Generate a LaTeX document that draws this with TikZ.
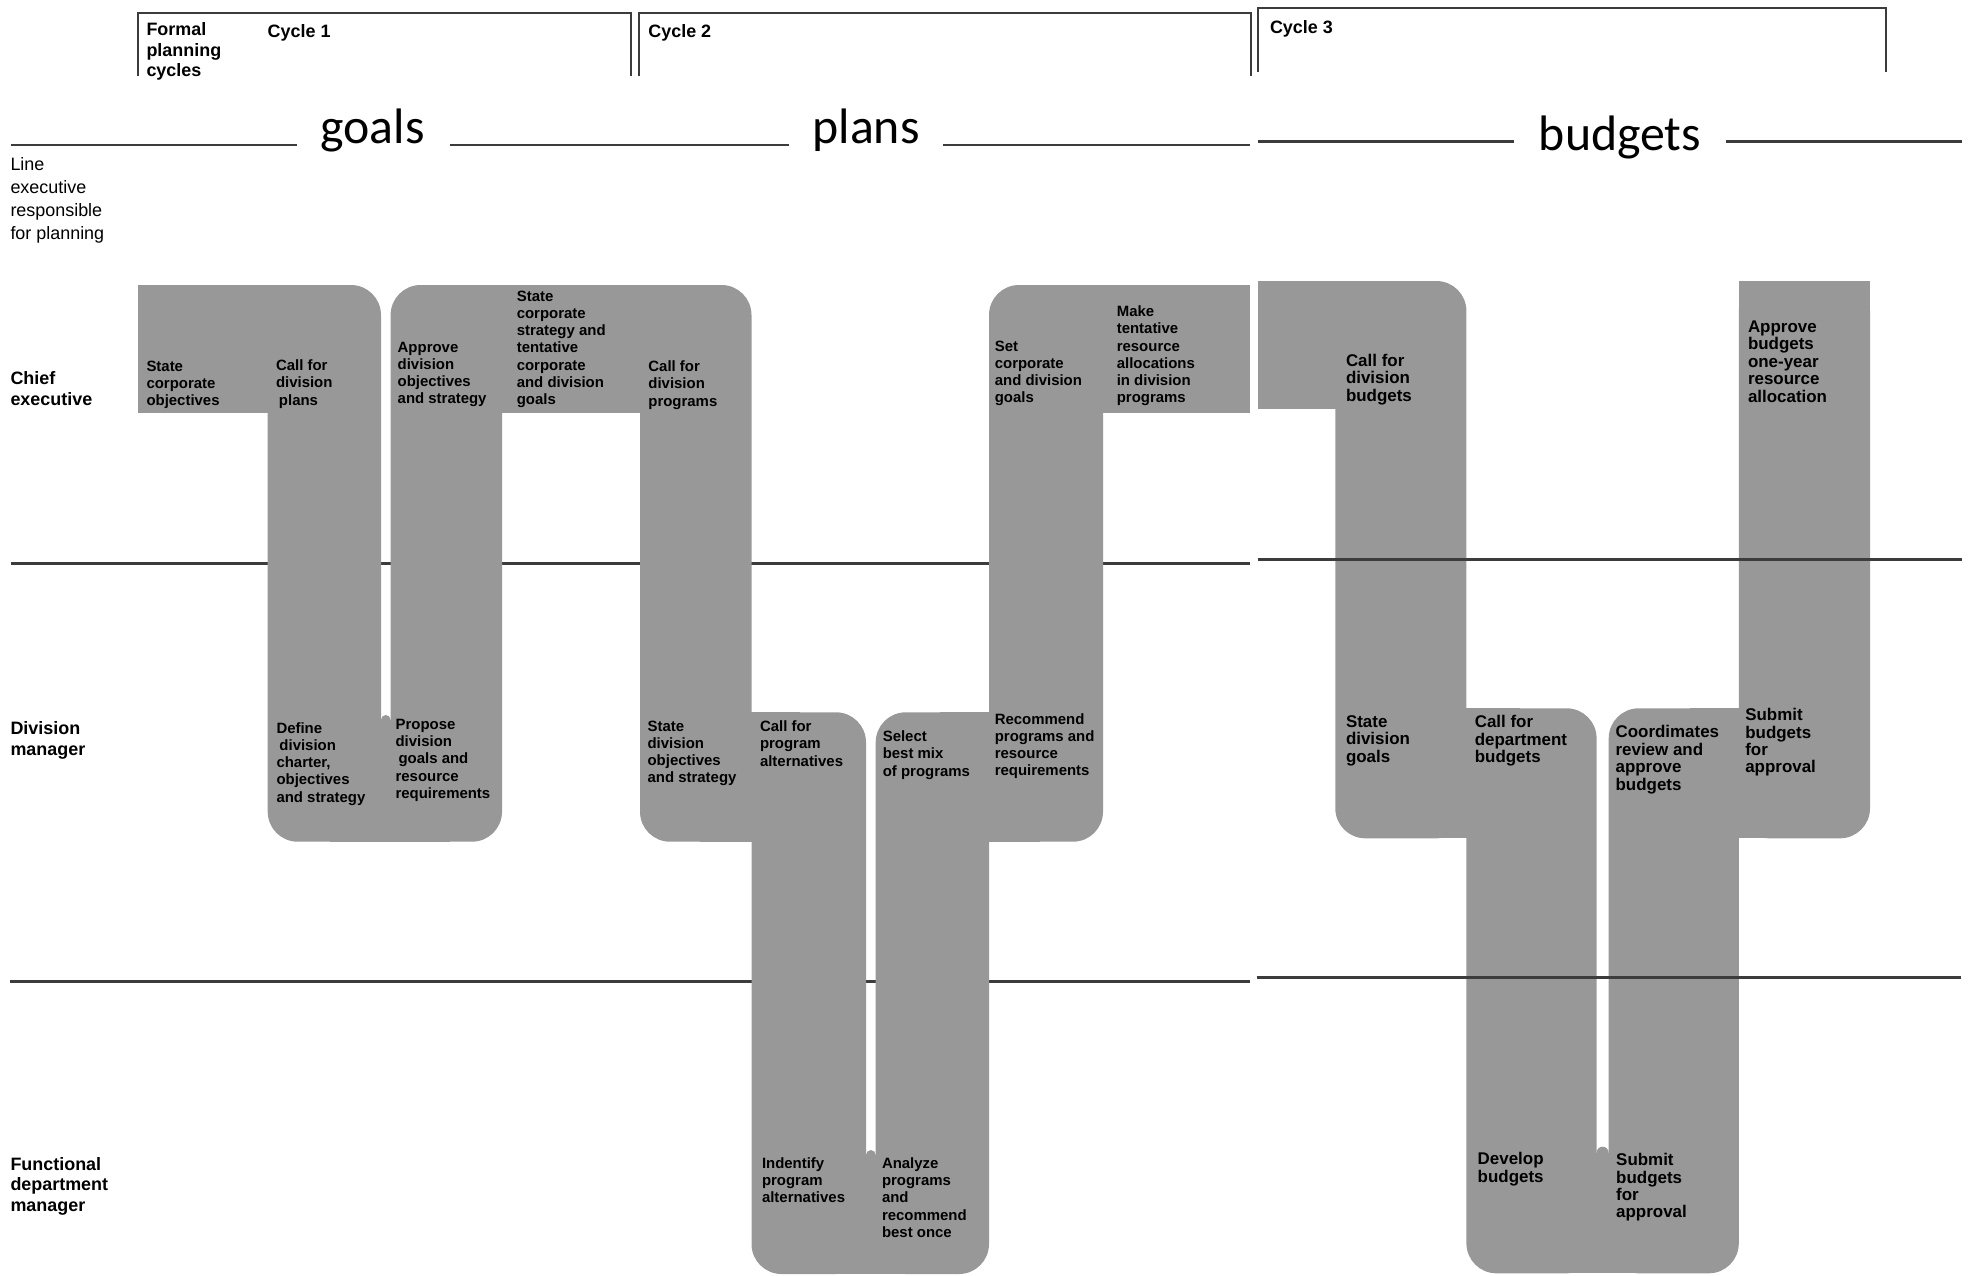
\documentclass[tikz,border=0pt]{standalone}
\usepackage{fontspec}
\setmainfont{Liberation Sans}
\newfontfamily\calib{Carlito}
\definecolor{shade}{RGB}{152,152,152}
\definecolor{ink}{RGB}{60,60,60}
\begin{document}
\begin{tikzpicture}[x=1bp,y=-1bp,
  frame/.style={draw=ink,line width=2.3bp},
  rulel/.style={draw=ink,line width=2.5bp},
  blk/.style={fill=shade,draw=none},
  rblk/.style={fill=shade,draw=none,rounded corners=30bp},
  txt/.style={anchor=north west,inner sep=0pt,outer sep=0pt,align=left,
    execute at begin node={\rule{0pt}{.8em}}},
  boxtxt/.style={txt,font=\fontsize{15}{17.3}\selectfont\bfseries},
  boxtxtc/.style={txt,font=\fontsize{17}{17.5}\selectfont\bfseries},
  lanetxt/.style={txt,font=\fontsize{18}{20.5}\selectfont\bfseries},
  lanereg/.style={txt,font=\fontsize{18}{23}\selectfont},
  big/.style={anchor=base,inner sep=0pt,font=\calib\fontsize{50}{60}\selectfont}
]
\useasboundingbox (0,0) rectangle (1969,1275);

% ---------- header frames
\draw[frame] (138,76) -- (138,12.7) -- (631,12.7) -- (631,76);
\draw[frame] (639,76) -- (639,12.7) -- (1251,12.7) -- (1251,76);
\draw[frame] (1257.7,72) -- (1257.7,8.3) -- (1886,8.3) -- (1886,72);

\node[lanetxt] (hformal) at (146.5,22.9) {Formal\\planning\\cycles};
\node[lanetxt] (hc1) at (267.7,22.9) {Cycle 1};
\node[lanetxt] (hc2) at (648.4,22.9) {Cycle 2};
\node[lanetxt] (hc3) at (1270,18.9) {Cycle 3};

% ---------- title rules
\node[big] (goals) at (372.5,143.3) {goals};
\node[big] (plans) at (866,143.3) {plans};
\node[big] (budgets) at (1620,150) {budgets};
\draw[rulel] (10.5,145) -- (296.7,145);
\draw[rulel] (449.5,145) -- (789.4,145);
\draw[rulel] (943,145) -- (1250,145);
\draw[rulel] (1257.7,141.7) -- (1514,141.7);
\draw[rulel] (1725.8,141.7) -- (1961.5,141.7);

% ---------- lane rules (left part, behind the bands)
\draw[rulel] (10.5,563.3) -- (1250,563.3);
\draw[rulel] (10,981.7) -- (1250,981.7);

% ---------- bands, cycles 1 and 2
\path[blk]  (138,285) rectangle (330,413.3);
\path[rblk] (267.7,285) rectangle (381,841.7);
\path[rblk] (390.6,285) rectangle (502,841.7);
\path[blk]  (450,285) rectangle (700,413.3);
\path[blk]  (330,719.8) rectangle (450,841.7);
\path[blk]  (385.8,719.8) circle[radius=4.8];
\path[rblk] (640,285) rectangle (751.5,841.7);
\path[blk]  (700,712.3) rectangle (800,841.7);
\path[rblk] (751.5,712.3) rectangle (866,1274);
\path[blk]  (820,1154.9) rectangle (920,1274);
\path[blk]  (870.85,1154.9) circle[radius=4.85];
\path[rblk] (875.7,712.3) rectangle (989,1274);
\path[blk]  (940,712.3) rectangle (1040,841.7);
\path[rblk] (989,285) rectangle (1103,841.7);
\path[blk]  (1050,285) rectangle (1250,413.3);

% ---------- bands, cycle 3
\path[blk]  (1257.7,281) rectangle (1400,409.3);
\path[rblk] (1335.3,281) rectangle (1466.4,838.3);
\path[blk]  (1420,708.3) rectangle (1520,838.3);
\path[rblk] (1466.4,708.3) rectangle (1596.6,1273.3);
\path[blk]  (1550,1152.7) rectangle (1650,1273.3);
\path[blk]  (1602.65,1152.7) circle[radius=6.05];
\path[rblk] (1608.7,708.3) rectangle (1738.8,1273.3);
\path[blk]  (1690,708.3) rectangle (1790,838.3);
\path[rblk] (1738.8,281) rectangle (1870,838.3);
\path[blk]  (1738.8,281) rectangle (1870,400);

% ---------- lane rules (right part, over the bands)
\draw[rulel] (1257.7,559.3) -- (1961.5,559.3);
\draw[rulel] (1256.5,977.3) -- (1961,977.3);

% ---------- lane labels
\node[lanereg] (lline) at (10.5,157.3) {Line\\executive\\responsible\\for planning};
\node[lanetxt] (lchief) at (10.5,371.6) {Chief\\executive};
\node[lanetxt] (ldiv) at (10.5,721.6) {Division\\manager};
\node[lanetxt] (lfunc) at (10.5,1157.3) {Functional\\department\\manager};

% ---------- step texts, cycles 1 and 2
\node[boxtxt] (t1) at (146.5,360.7) {State\\corporate\\objectives};
\node[boxtxt] (t2) at (276,359.7) {Call for\\division\\\hspace{3pt}plans};
\node[boxtxt] (t3) at (397.7,342) {Approve\\division\\objectives\\and strategy};
\node[boxtxt] (t4) at (516.8,290.7) {State\\corporate\\strategy and\\tentative\\corporate\\and division\\goals};
\node[boxtxt] (t5) at (648.4,360.7) {Call for\\division\\programs};
\node[boxtxt] (t6) at (994.8,340.7) {Set\\corporate\\and division\\goals};
\node[boxtxt] (t7) at (1116.8,305.7) {Make\\tentative\\resource\\allocations\\in division\\programs};
\node[boxtxt] (t8) at (276.5,722.3) {Define\\\hspace{3pt}division\\charter,\\objectives\\and strategy};
\node[boxtxt] (t9) at (395.6,719) {Propose\\division\\\hspace{3pt}goals and\\resource\\requirements};
\node[boxtxt] (t10) at (647.6,720.7) {State\\division\\objectives\\and strategy};
\node[boxtxt] (t11) at (760,720.7) {Call for\\program\\alternatives};
\node[boxtxt] (t12) at (882.8,730.7) {Select\\best mix\\of programs};
\node[boxtxt] (t13) at (994.8,713.3) {Recommend\\programs and\\resource\\requirements};
\node[boxtxt] (t14) at (762,1157.5) {Indentify\\program\\alternatives};
\node[boxtxt] (t15) at (882,1157.5) {Analyze\\programs\\and\\recommend\\best once};

% ---------- step texts, cycle 3
\node[boxtxtc] (u1) at (1346,354.1) {Call for\\division\\budgets};
\node[boxtxtc] (u2) at (1748,320.7) {Approve\\budgets\\one-year\\resource\\allocation};
\node[boxtxtc] (u3) at (1346,715.7) {State\\division\\goals};
\node[boxtxtc] (u4) at (1474.8,715.7) {Call for\\department\\budgets};
\node[boxtxtc] (u5) at (1615.6,725.7) {Coordimates\\review and\\approve\\budgets};
\node[boxtxtc] (u6) at (1745.3,708.4) {Submit\\budgets\\for\\approval};
\node[boxtxtc] (u7) at (1477.7,1152.4) {Develop\\budgets};
\node[boxtxtc] (u8) at (1616.2,1153.4) {Submit\\budgets\\for\\approval};
\end{tikzpicture}
\end{document}
